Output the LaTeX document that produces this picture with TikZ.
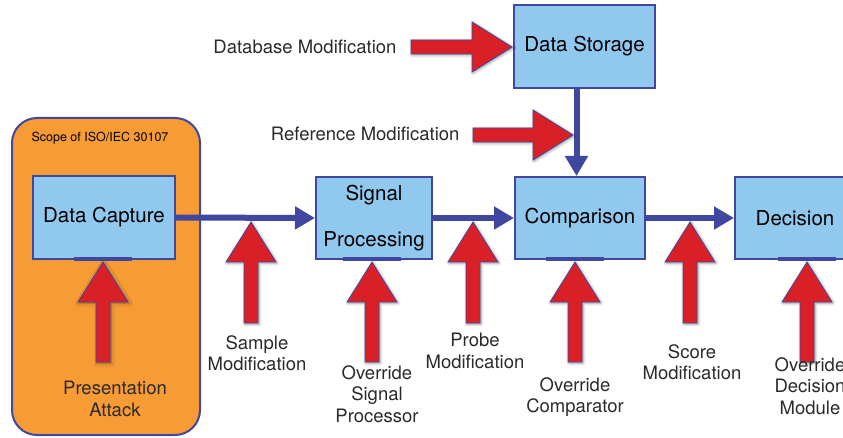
\documentclass[tikz,border=0pt]{standalone}
\usepackage{fontspec}
\setmainfont{TeX Gyre Heros}
\usetikzlibrary{positioning, arrows.meta, calc, shadows.blur}

\definecolor{scopeorange}{HTML}{F79B34}
\definecolor{boxblue}{HTML}{90C8EE}
\definecolor{edgeblue}{HTML}{3F47A0}
\definecolor{attackred}{HTML}{D92027}
\definecolor{labelgray}{HTML}{2A2A2A}

% red attack arrow: tip coordinate, direction, length
\newcommand{\attack}[3]{%
  \draw[threat, shift={(#1)}, rotate=#2] (0,0) -- (-40,25) -- (-40,7) -- (-#3,7) -- (-#3,-7) -- (-40,-7) -- (-40,-25) -- cycle;
}

\begin{document}
\begin{tikzpicture}[
    x=1pt, y=-1pt,
    modbox/.style={
        rectangle,
        draw=edgeblue,
        fill=boxblue,
        line width=2pt,
        align=center,
        font=\fontsize{20.5}{24}\selectfont
    },
    flow/.style={
        draw=edgeblue,
        line width=6pt,
        -{Triangle[length=20pt, width=22pt]}
    },
    threat/.style={
        fill=attackred,
        draw=edgeblue,
        line width=0.8pt,
        blur shadow={shadow xshift=1pt, shadow yshift=-1pt, shadow blur radius=3pt, shadow opacity=45}
    },
    attacklabel/.style={
        align=center,
        text=labelgray,
        font=\fontsize{18.5}{21.5}\selectfont
    }
]
    \useasboundingbox (0,0) rectangle (843,438);

    % Scope of the standard
    \draw[fill=scopeorange, draw=edgeblue, line width=2pt, rounded corners=25pt] (12,118) rectangle (200,435);
    \node[font=\fontsize{12.5}{14}\selectfont] (scope) at (100,138) {Scope of ISO/IEC 30107};

    % Modules
    \node[modbox, minimum width=142pt, minimum height=83pt] (capture) at (104,217.5) {Data Capture};
    \node[modbox, minimum width=116pt, minimum height=82pt] (signal) at (374,218) {Signal\\[22pt]Processing};
    \node[modbox, minimum width=130pt, minimum height=82pt] (compare) at (580,218) {Comparison};
    \node[modbox, minimum width=120pt, minimum height=82pt] (decision) at (795,218) {Decision};
    \node[modbox, minimum width=141pt, minimum height=83pt] (storage) at (584.5,46.5) {Data Storage};

    % Data flow
    \draw[flow] (capture.east) -- (signal.west);
    \draw[flow] (signal.east) -- (compare.west);
    \draw[flow] (compare.east) -- (decision.west);
    \draw[flow] ([xshift=-8pt]storage.south) -- ([xshift=-8pt]storage.south |- compare.north);

    % Attack points
    \coordinate (pa) at (103,262);
    \coordinate (samp) at (251,222);
    \coordinate (osp) at (372,262);
    \coordinate (probe) at (473,222);
    \coordinate (ocmp) at (575,262);
    \coordinate (score) at (690,222);
    \coordinate (odec) at (807,262);
    \coordinate (dbmod) at (512,47);
    \coordinate (refmod) at (573,135);

    \foreach \p in {pa, osp, ocmp, odec}
        \draw[edgeblue, line width=3.5pt] ($(\p)+(-29,-3)$) -- ($(\p)+(29,-3)$);

    \attack{pa}{90}{100}
    \attack{samp}{90}{101}
    \attack{osp}{90}{100}
    \attack{probe}{90}{101}
    \attack{ocmp}{90}{100}
    \attack{score}{90}{101}
    \attack{odec}{90}{100}
    \attack{dbmod}{0}{101}
    \attack{refmod}{0}{100}

    % Labels
    \node[attacklabel] (palabel) at (115,399) {Presentation\\Attack};
    \node[attacklabel] (samplabel) at (257,353) {Sample\\Modification};
    \node[attacklabel] (osplabel) at (377,394) {Override\\Signal\\Processor};
    \node[attacklabel] (probelabel) at (475,351) {Probe\\Modification};
    \node[attacklabel] (ocmplabel) at (575,397) {Override\\Comparator};
    \node[attacklabel] (scorelabel) at (692,362) {Score\\Modification};
    \node[attacklabel] (odeclabel) at (810,386) {Override\\Decision\\Module};
    \node[attacklabel, anchor=east] (dblabel) at (400,47) {Database Modification};
    \node[attacklabel, anchor=east] (reflabel) at (463,134) {Reference Modification};
\end{tikzpicture}
\end{document}
